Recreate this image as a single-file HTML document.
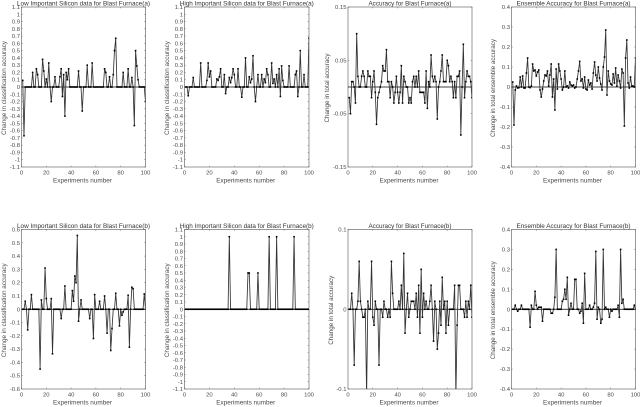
<!DOCTYPE html>
<html>
<head>
<meta charset="utf-8">
<style>
html,body{margin:0;padding:0;background:#fff;}
svg{display:block;filter:blur(0.35px);}
text{font-family:"Liberation Sans",sans-serif;fill:#4a4a4a;}
</style>
</head>
<body>
<svg id="chart" width="640" height="407" viewBox="0 0 640 407" xmlns="http://www.w3.org/2000/svg"></svg>
<script>
const xTicks = [0, 20, 40, 60, 80, 100];
const ticks11 = [-1.1,-1,-0.9,-0.8,-0.7,-0.6,-0.5,-0.4,-0.3,-0.2,-0.1,0,0.1,0.2,0.3,0.4,0.5,0.6,0.7,0.8,0.9,1,1.1];
const ticks06 = [-0.6,-0.5,-0.4,-0.3,-0.2,-0.1,0,0.1,0.2,0.3,0.4,0.5,0.6];
const ticks015 = [-0.15,-0.05,0.05,0.15];
const ticks04 = [-0.4,-0.3,-0.2,-0.1,0,0.1,0.2,0.3,0.4];
const ticks01 = [-0.1,0,0.1];

const lowA = [
.09,-.67,0,0,0,0,0,0,.2,0,
0,.25,.17,0,0,0,.38,.22,0,.11,
0,.33,0,-.2,0,0,.14,0,0,0,
.14,.25,-.13,.17,-.4,.2,.1,.25,0,0,
0,0,0,0,0,.22,0,0,-.33,0,
0,0,.3,0,0,0,.33,0,0,0,
0,0,0,0,0,0,.25,.2,0,0,
.14,0,0,.17,.5,.67,0,0,0,0,
0,.2,0,0,0,.25,0,0,.13,0,
-.53,.5,.29,.1,0,0,0,0,0,-.2];

const highA = [
0,0,-.12,0,0,0,.13,0,0,0,
0,0,.33,0,0,0,0,.09,.33,.14,
.22,0,0,0,0,.11,.09,.14,.25,0,
0,.17,-.09,0,0,.13,.06,.13,.25,.17,
0,0,.25,0,0,-.14,0,0,.4,0,
0,.14,.06,.11,.43,0,-.2,0,.17,0,
0,.17,0,.11,.06,.25,.17,0,0,.33,
.05,.11,0,.17,0,.25,-.13,.29,.09,0,
0,0,0,.29,0,0,0,0,.17,.22,
-.13,0,.5,0,0,.17,0,0,0,.67];

const accA = [
-.02,-.05,.01,.01,0,-.03,.1,.02,0,0,
.02,.03,.02,0,0,.03,.02,.02,-.02,.01,
.03,-.01,-.07,-.02,-.01,0,.01,.04,.03,.03,
.07,.01,.01,-.02,.01,0,-.03,-.01,.02,-.01,
-.03,-.01,.04,-.03,.02,.01,0,0,-.03,-.02,
-.03,.01,.02,0,.02,0,.03,-.01,-.01,-.01,
-.01,-.03,.03,-.04,.01,0,.06,.02,.01,.02,
.01,-.06,0,.01,.03,.06,.01,.01,.01,.05,
.04,.01,.02,.01,-.02,.01,-.02,.02,.02,.03,
-.09,0,.08,-.02,.01,.03,.02,.02,.01,-.02];

const ensA = [
.025,-.19,-.015,.005,-.005,-.003,.05,0,.055,-.005,
-.005,.07,.145,0,-.003,.005,.115,.08,.085,.055,
.075,.085,-.015,-.05,-.01,.03,.06,.055,.08,.005,
.06,.115,-.05,.04,-.115,.09,-.01,.115,.08,.04,
-.015,0,.08,0,.005,-.005,.025,.01,.005,.01,
-.005,0,.04,.08,.128,.03,.04,-.005,.05,-.01,
-.015,.035,.01,.02,-.01,.07,.125,.06,.03,.1,
.045,.015,-.015,.1,.15,.285,-.04,.08,.03,.015,
.01,.065,.02,.095,.005,.06,.03,-.005,.09,.07,
-.195,.145,.235,.02,-.005,.05,.005,.005,0,.145];

const lowB = [
0,0,.06,0,-.155,0,0,.11,0,0,
0,0,0,0,-.45,.07,0,0,.31,.08,
0,0,0,.08,-.335,0,0,0,0,0,
0,-.07,0,0,.175,0,0,0,0,0,
.14,.06,.25,.2,.555,-.09,0,.07,0,0,
0,0,0,0,-.07,0,0,-.22,.11,0,
0,0,.06,0,0,0,.1,0,-.18,0,
0,-.31,-.145,0,0,.12,0,0,-.125,0,
-.045,-.02,0,0,0,.105,-.285,0,.165,.155,
0,0,0,0,0,0,0,0,.115,0];

const highB = [
0,0,0,0,0,0,0,0,0,0,
0,0,0,0,0,0,0,0,0,0,
0,0,0,0,0,0,0,0,0,0,
0,0,0,0,0,1,0,0,0,0,
0,0,0,0,0,0,0,0,0,0,
.5,.5,0,0,0,0,0,0,.5,0,
0,0,0,0,0,0,0,1,0,0,
0,0,0,1,0,0,0,0,0,0,
0,0,0,0,0,0,0,1,0,0,
0,0,0,0,0,0,0,0,0,0];

const accB = [
0,0,.02,0,-.07,0,0,.01,.06,.01,
0,-.01,-.01,0,-.11,.01,0,0,.06,-.01,
-.02,.01,0,0,-.07,0,0,-.01,.01,0,
0,-.01,0,-.01,.06,.02,0,0,0,0,
.01,0,.03,0,.07,-.03,0,.02,-.01,0,
.01,.01,.01,0,.02,-.01,.03,-.03,.05,-.01,
.02,0,.01,0,0,.01,.03,0,-.04,.01,
0,-.05,-.03,.01,-.02,.04,0,.01,-.03,.01,
-.02,0,0,0,0,.03,-.11,-.02,.03,.03,
0,0,0,-.01,.01,-.01,.01,0,.03,-.01];

const ensB = [
0,0,.02,0,-.01,0,0,.02,0,0,
0,0,0,0,-.09,.02,0,0,.09,.02,
0,.01,.01,.01,-.06,0,0,0,0,0,
0,-.02,-.02,0,.06,.3,0,0,0,0,
.04,.05,.1,.05,.16,-.03,0,.03,0,0,
.15,.15,0,0,-.02,-.01,.03,-.07,.18,0,
0,0,.02,0,0,.01,.03,.29,-.05,.01,
0,-.07,-.05,.3,0,.01,0,0,-.04,0,
-.01,0,0,0,0,.02,-.04,.3,.03,.05,
0,0,0,0,0,0,0,0,.02,0];

const panels = [
 {id:'low-a', title:'Low Important Silicon data for Blast Furnace(a)', yTitle:'Change in classification accuracy', values:lowA, ticks:ticks11, yMin:-1.1, yMax:1.1, l:21.5, r:145.5, t:7, b:167, yt:4, tw:133, ytw:94},
 {id:'high-a', title:'High Important Silicon data for Blast Furnace(a)', yTitle:'Change in classification accuracy', values:highA, ticks:ticks11, yMin:-1.1, yMax:1.1, l:184.5, r:309, t:7, b:167, yt:167, tw:134, ytw:94},
 {id:'acc-a', title:'Accuracy for Blast Furnace(a)', yTitle:'Change in total accuracy', values:accA, ticks:ticks015, yMin:-0.15, yMax:0.15, l:348, r:472, t:7, b:167, yt:327, tw:83, ytw:69},
 {id:'ens-a', title:'Ensemble Accuracy for Blast Furnace(a)', yTitle:'Change in total ensemble accuracy', values:ensA, ticks:ticks04, yMin:-0.4, yMax:0.4, l:511.5, r:635.5, t:7, b:167, yt:493, tw:114, ytw:98},
 {id:'low-b', title:'Low Important Silicon data for Blast Furnace(b)', yTitle:'Change in classification accuracy', values:lowB, ticks:ticks06, yMin:-0.6, yMax:0.6, l:21.5, r:145.5, t:229.5, b:389, yt:4, tw:133, ytw:94},
 {id:'high-b', title:'High Important Silicon data for Blast Furnace(b)', yTitle:'Change in classification accuracy', values:highB, ticks:ticks11, yMin:-1.1, yMax:1.1, l:184.5, r:309, t:229.5, b:389, yt:167, tw:134, ytw:94},
 {id:'acc-b', title:'Accuracy for Blast Furnace(b)', yTitle:'Change in total accuracy', values:accB, ticks:ticks01, yMin:-0.1, yMax:0.1, l:348, r:472, t:229.5, b:389, yt:331, tw:83, ytw:69},
 {id:'ens-b', title:'Ensemble Accuracy for Blast Furnace(b)', yTitle:'Change in total ensemble accuracy', values:ensB, ticks:ticks04, yMin:-0.4, yMax:0.4, l:511.5, r:635.5, t:229.5, b:389, yt:493, tw:114, ytw:98}
];

const NS = 'http://www.w3.org/2000/svg';
const root = document.getElementById('chart');
function mk(tag, attrs, parent, txt) {
  const e = document.createElementNS(NS, tag);
  for (const k in attrs) e.setAttribute(k, attrs[k]);
  if (txt !== undefined) e.textContent = txt;
  parent.appendChild(e);
  return e;
}
function fmt(v) { return String(v); }

panels.forEach(function (p) {
  const sx = function (v) { return p.l + (v / 100) * (p.r - p.l); };
  const sy = function (v) { return p.b - ((v - p.yMin) / (p.yMax - p.yMin)) * (p.b - p.t); };

  const g = mk('g', {}, root);
  
  

  const clip = mk('clipPath', {id: 'clip-' + p.id}, g);
  mk('rect', {x: p.l, y: p.t, width: p.r - p.l, height: p.b - p.t}, clip);

  const frame = mk('rect', {x: p.l, y: p.t, width: p.r - p.l, height: p.b - p.t, fill: '#fff', stroke: '#555', 'stroke-width': 0.6}, g);
  
  

  xTicks.forEach(function (v) {
    const x = sx(v);
    mk('path', {d: 'M' + x + ' ' + p.b + 'v-1.3M' + x + ' ' + p.t + 'v1.3', stroke: '#666', 'stroke-width': 0.5, fill: 'none'}, g);
    const lab = mk('text', {x: x, y: p.b + 7.6, 'font-size': 5.9, 'text-anchor': 'middle'}, g, fmt(v));
    
    
  });

  p.ticks.forEach(function (v) {
    const y = sy(v);
    mk('path', {d: 'M' + p.l + ' ' + y + 'h1.3M' + p.r + ' ' + y + 'h-1.3', stroke: '#666', 'stroke-width': 0.5, fill: 'none'}, g);
    const lab = mk('text', {x: p.l - 1.5, y: y + 2, 'font-size': 5.9, 'text-anchor': 'end'}, g, fmt(v));
    
    
  });

  const zero = mk('line', {x1: p.l, x2: p.r, y1: sy(0), y2: sy(0), stroke: '#000', 'stroke-width': 0.8}, g);
  
  

  const plot = mk('g', {'clip-path': 'url(#clip-' + p.id + ')'}, g);
  
  

  const pts = p.values.map(function (v, i) { return sx(i + 1).toFixed(2) + ',' + sy(v).toFixed(2); }).join(' ');
  const line = mk('polyline', {points: pts, fill: 'none', stroke: '#333', 'stroke-width': 0.85}, plot);
  
  

  p.values.forEach(function (v, i) {
    const m = mk('rect', {x: sx(i + 1) - 0.8, y: sy(v) - 0.8, width: 1.6, height: 1.6, fill: '#000'}, plot);
    
    
  });

  const title = mk('text', {x: (p.l + p.r) / 2, y: p.t - 1.6, 'font-size': 6.4, 'text-anchor': 'middle', textLength: p.tw, lengthAdjust: 'spacingAndGlyphs', style: 'fill:#333'}, g, p.title);
  
  

  const xt = mk('text', {x: (p.l + p.r) / 2 - 1, y: p.b + 15.6, 'font-size': 6.4, 'text-anchor': 'middle', textLength: 59, lengthAdjust: 'spacingAndGlyphs'}, g, 'Experiments number');
  
  

  const cy = (p.t + p.b) / 2 + 1;
  const yt = mk('text', {x: 0, y: 0, transform: 'translate(' + (p.yt + 2) + ' ' + cy + ') rotate(-90)', 'font-size': 6.4, 'text-anchor': 'middle', textLength: p.ytw, lengthAdjust: 'spacingAndGlyphs'}, g, p.yTitle);
  
  
});
</script>
</body>
</html>
